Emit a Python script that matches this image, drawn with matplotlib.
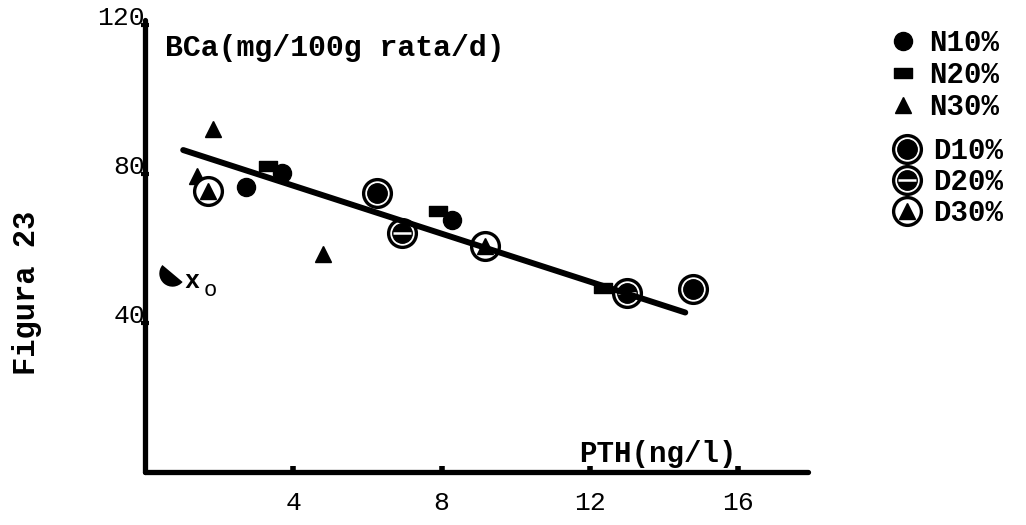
import matplotlib
matplotlib.use("Agg")
import matplotlib.pyplot as plt
from matplotlib.markers import MarkerStyle
from matplotlib.transforms import Affine2D, ScaledTranslation
from matplotlib.path import Path
from matplotlib.legend_handler import HandlerTuple

plt.rcParams['font.family'] = ['Liberation Mono', 'DejaVu Sans Mono']

# ---------------- data ----------------
n10_x = [2.72, 3.69, 8.27]
n10_y = [76.5, 80.3, 67.6]
n20_x = [3.32, 7.89, 12.35]
n20_y = [82.1, 70.1, 49.5]
n30_x = [1.84, 1.39, 4.81]
n30_y = [92.0, 79.5, 58.4]
d10_x = [6.25, 14.78]
d10_y = [75.0, 49.1]
d20_x = [6.92, 12.99]
d20_y = [64.2, 48.1]
d30_x = [1.71, 9.17]
d30_y = [75.4, 60.7]
outlier_x = [0.72]
outlier_y = [53.5]
fit_x = [1.03, 14.57]
fit_y = [86.4, 42.8]

x_ticks = [4, 8, 12, 16]
x_tick_labels = ['4', '8', '12', '16']
y_ticks = [40, 80, 120]
y_tick_labels = ['40', '80', '120']

n_labels = ['N10%', 'N20%', 'N30%']
d_labels = ['D10%', 'D20%', 'D30%']

x_label = 'PTH(ng/l)'
y_label = 'BCa(mg/100g rata/d)'
fig_label = 'Figura 23'

# ---------------- figure ----------------
fig = plt.figure(figsize=(10.26, 5.25), dpi=100)
ax = fig.add_axes([145 / 1026, 53 / 525, (808 - 145) / 1026, (472 - 20) / 525])
ax.set_facecolor('none')
ax.set_xlim(0, 17.88)
ax.set_ylim(0, 121.3)

for s in ['top', 'right']:
    ax.spines[s].set_visible(False)
for s in ['left', 'bottom']:
    ax.spines[s].set_linewidth(3.8)
    ax.spines[s].set_capstyle('round')
    ax.spines[s].set_joinstyle('round')

ax.set_xticks(x_ticks)
ax.set_xticklabels(x_tick_labels)
ax.tick_params(axis='x', direction='in', length=4, width=4, pad=14, labelsize=19)
ax.set_yticks(y_ticks)
ax.set_yticklabels(y_tick_labels)
ax.tick_params(axis='y', direction='inout', length=6, width=3, pad=-3.0, labelsize=19)
off = ScaledTranslation(0, 7 / 72, fig.dpi_scale_trans)
for lab in ax.get_yticklabels():
    lab.set_transform(lab.get_transform() + off)

K = 'black'
rect = Path([(-1, -0.55), (1, -0.55), (1, 0.55), (-1, 0.55), (-1, -0.55)],
            [Path.MOVETO, Path.LINETO, Path.LINETO, Path.LINETO, Path.CLOSEPOLY])

common = dict(linestyle='none', zorder=3)
h_n10, = ax.plot(n10_x, n10_y, marker='o', ms=13, color=K, **common)
h_n20, = ax.plot(n20_x, n20_y, marker=rect, ms=13, color=K, mew=1, **common)
h_n30, = ax.plot(n30_x, n30_y, marker='^', ms=12, color=K, **common)

ring = dict(marker='o', ms=20, mfc='white', mec=K, mew=2.4)
d10_ring, = ax.plot(d10_x, d10_y, **ring, **common)
d10_in, = ax.plot(d10_x, d10_y, marker='o', ms=14, color=K, linestyle='none', zorder=4)
d20_ring, = ax.plot(d20_x, d20_y, **ring, **common)
d20_in, = ax.plot(d20_x, d20_y, marker='o', ms=14, color=K, linestyle='none', zorder=4)
d20_band, = ax.plot(d20_x, d20_y, marker='_', ms=13, color='white', mew=1.8,
                    linestyle='none', zorder=5)
d30_ring, = ax.plot(d30_x, d30_y, **ring, **common)
d30_in, = ax.plot(d30_x, d30_y, marker='^', ms=11.5, color=K, linestyle='none', zorder=4)

half = MarkerStyle('o', fillstyle='bottom', transform=Affine2D().rotate_deg(-40))
ax.plot(outlier_x, outlier_y, marker=half, ms=19, color=K, mfc=K, mfcalt='none',
        mew=0, linestyle='none', zorder=3)
ax.text(outlier_x[0] + 0.55, outlier_y[0] - 2.2, 'x', fontsize=18, fontweight='bold',
        ha='center', va='center')
ax.text(outlier_x[0] + 1.03, outlier_y[0] - 4.9, 'o', fontsize=16,
        ha='center', va='center')

# regression line
ax.plot(fit_x, fit_y, color=K, lw=4.3, solid_capstyle='round', zorder=6)

# axis titles
ax.text(0.54, 113.8, y_label, fontsize=21.5, fontweight='bold', ha='left', va='center')
ax.text(13.84, 4.8, x_label, fontsize=21, fontweight='bold', ha='center', va='center')
fig.text(27 / 1026, 1 - 293 / 525, fig_label, rotation=90, fontsize=22,
         fontweight='bold', ha='center', va='center')

# legends
lprop = dict(size=21, weight='bold')
leg1 = fig.legend([h_n10, h_n20, h_n30], n_labels, loc='upper left',
                  bbox_to_anchor=(890 / 1026, 1 - 29 / 525), frameon=False,
                  borderpad=0, borderaxespad=0, handlelength=0.9, handletextpad=0.45,
                  labelspacing=0.14, prop=lprop)
d_handles = [(d10_ring, d10_in), (d20_ring, d20_in, d20_band), (d30_ring, d30_in)]
leg2 = fig.legend(d_handles, d_labels, loc='upper left',
                  bbox_to_anchor=(894 / 1026, 1 - 137 / 525), frameon=False,
                  borderpad=0, borderaxespad=0, handlelength=0.9, handletextpad=0.45,
                  labelspacing=0.1, prop=lprop,
                  handler_map={tuple: HandlerTuple(ndivide=1, pad=0)})

fig.savefig('out.png', dpi=100)
